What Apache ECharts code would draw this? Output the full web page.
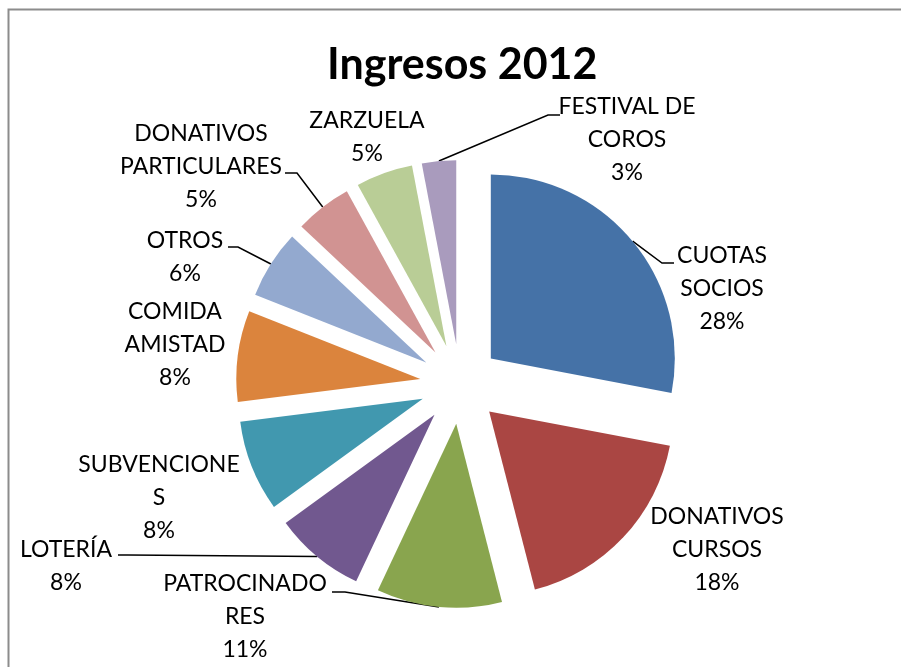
<!DOCTYPE html>
<html>
<head>
<meta charset="utf-8">
<script src="https://cdn.jsdelivr.net/npm/echarts@6/dist/echarts.min.js"></script>
<style>
  html, body { margin: 0; padding: 0; background: #fff; }
  #chart { width: 901px; height: 667px; }
</style>
</head>
<body>
<div id="chart"></div>
<script>
// datos del gráfico
var categories = ["CUOTAS SOCIOS", "DONATIVOS CURSOS", "PATROCINADORES", "LOTERÍA", "SUBVENCIONES",
  "COMIDA AMISTAD", "OTROS", "DONATIVOS PARTICULARES", "ZARZUELA", "FESTIVAL DE COROS"];
var values = [28, 18, 11, 8, 8, 8, 6, 5, 5, 3];
// texto de etiqueta tal como se parte en el original
var labelText = ["CUOTAS\nSOCIOS", "DONATIVOS\nCURSOS", "PATROCINADO\nRES", "LOTERÍA", "SUBVENCIONE\nS",
  "COMIDA\nAMISTAD", "OTROS", "DONATIVOS\nPARTICULARES", "ZARZUELA", "FESTIVAL DE\nCOROS"];

var colorList = ["#4572A7", "#AA4643", "#89A54E", "#71588F", "#4198AF",
  "#DB843D", "#93A9CF", "#D19392", "#B9CD96", "#A99BBD"];

// colocación de etiquetas (centro del bloque) y de sus líneas guía
var labelPos = [[722, 289], [717, 550], [245, 617], [66, 566], [159, 498],
  [175, 345], [185, 257], [201, 167], [367, 137], [627, 140]];
var lineElbow = [[662, 263], null, [345, 592], [128, 555], null,
  null, [238, 247], [297, 173], null, [548, 115]];
var lineEnd = [[674, 263], null, [332, 592], [118, 555], null,
  null, [228, 247], [285, 173], null, [560, 115]];

var explode = 40;
var total = values.reduce(function (a, b) { return a + b; }, 0);
var cum = 0;
// desplazamiento de cada porción separada (ángulo medio, sentido horario desde arriba)
var shift = values.map(function (v) {
  var mid = (cum + v / 2) / total * Math.PI * 2;
  cum += v;
  return [explode * Math.sin(mid), -explode * Math.cos(mid)];
});

var chart = echarts.init(document.getElementById("chart"));

var option = {
  animation: false,
  color: colorList,
  title: {
    text: "Ingresos 2012",
    left: 322,
    top: 39,
    textStyle: { fontFamily: "Lato", fontWeight: "bold", fontSize: 43, color: "#000" }
  },
  graphic: [{
    type: "rect",
    shape: { x: 8.5, y: 9.5, width: 1000, height: 800 },
    style: { fill: "none", stroke: "#8c8c8c", lineWidth: 2 },
    silent: true
  }],
  series: [{
    type: "pie",
    center: [460, 384],
    radius: 184,
    startAngle: 90,
    clockwise: true,
    avoidLabelOverlap: false,
    selectedMode: "multiple",
    selectedOffset: explode,
    emphasis: { disabled: true },
    label: {
      show: true,
      position: "outside",
      formatter: function (p) {
        return labelText[p.dataIndex] + "\n" + p.value + "%";
      },
      fontFamily: "Lato",
      fontSize: 23,
      lineHeight: 33,
      color: "#000"
    },
    labelLine: {
      show: true,
      length: 15,
      length2: 15,
      lineStyle: { color: "#000", width: 1.5 }
    },
    labelLayout: function (params) {
      var i = params.dataIndex;
      var p = labelPos[i];
      var s = shift[i];
      var r = params.labelRect;
      var ax = params.align === "left" ? r.x : params.align === "right" ? r.x + r.width : r.x + r.width / 2;
      var out = {
        align: "center",
        dx: p[0] - s[0] - ax,
        dy: p[1] - s[1] - (r.y + r.height / 2)
      };
      if (lineEnd[i]) {
        out.labelLinePoints = [
          params.labelLinePoints[0],
          [lineElbow[i][0] - s[0], lineElbow[i][1] - s[1]],
          [lineEnd[i][0] - s[0], lineEnd[i][1] - s[1]]
        ];
      }
      return out;
    },
    data: categories.map(function (name, i) {
      return {
        name: name,
        value: values[i],
        selected: true,
        labelLine: { show: !!lineEnd[i] }
      };
    })
  }]
};

chart.setOption(option);
</script>
</body>
</html>
